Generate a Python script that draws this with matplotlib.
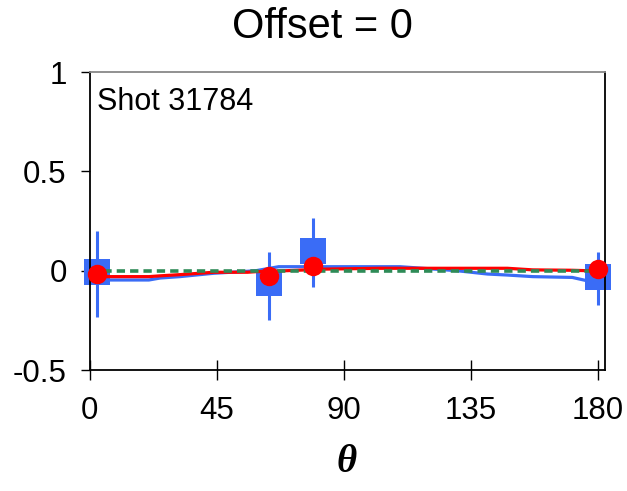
import matplotlib
matplotlib.use("Agg")
import matplotlib.pyplot as plt
import numpy as np

# ---- data ----
theta_pts = [2.5, 63.5, 79, 180]
red_vals = [-0.015, -0.025, 0.025, 0.008]
blue_vals = [-0.009, -0.06, 0.097, -0.033]
blue_err_hi = [0.20, 0.096, 0.265, 0.096]
blue_err_lo = [-0.235, -0.25, -0.08, -0.171]

line_theta = [2.5, 7, 21, 25, 32, 44, 56, 59, 67, 70, 84, 103, 110, 130, 141, 148, 157, 171, 176, 180]
blue_line = [-0.045, -0.047, -0.047, -0.037, -0.03, -0.013, -0.003, 0.0, 0.02, 0.02, 0.02, 0.02, 0.02, 0.0, -0.017, -0.022, -0.03, -0.034, -0.05, -0.05]
red_line = [-0.03, -0.03, -0.03, -0.026, -0.02, -0.008, -0.008, -0.005, -0.001, 0.0, 0.008, 0.012, 0.012, 0.012, 0.012, 0.012, 0.004, 0.002, 0.0, 0.0]
green_theta = [0, 180]
green_line = [0, 0]

xticks = [0, 45, 90, 135, 180]
yticks = [-0.5, 0, 0.5, 1]
ytick_labels = ["-0.5", "0", "0.5", "1"]

title = "Offset = 0"
annot = "Shot 31784"

BLUE = "#3a6cf6"
RED = "#ff0000"
GREEN = "#2e8b57"

plt.rcParams['font.family'] = ['Liberation Sans', 'DejaVu Sans']

fig = plt.figure(figsize=(6.27, 4.91), dpi=100)
ax = fig.add_axes([89.6/627, 1-370/491, (605-89.6)/627, (370-72)/491])

# error bars
yerr = [np.array(blue_vals) - np.array(blue_err_lo), np.array(blue_err_hi) - np.array(blue_vals)]
eb = ax.errorbar(theta_pts, blue_vals, yerr=yerr, fmt='s', color=BLUE, ecolor=BLUE,
                 elinewidth=2.2, markersize=18.5, markeredgewidth=0, capsize=0, zorder=2)
eb[0].set_clip_on(False)
for c in eb[2]:
    c.set_clip_on(False)
ax.plot(line_theta, blue_line, color=BLUE, lw=2.3, zorder=3)
ax.plot(line_theta, red_line, color=RED, lw=2.3, zorder=4)
ax.plot(green_theta, green_line, color=GREEN, lw=2.6, dashes=(2.3, 1.4), zorder=5)
ax.plot(theta_pts, red_vals, 'o', color=RED, markersize=14, markeredgewidth=0, zorder=6, clip_on=False)

ax.set_xlim(0, 182.6)
ax.set_ylim(-0.5, 1)
ax.set_xticks(xticks)
ax.set_yticks(yticks)
ax.set_yticklabels(ytick_labels)

ax.tick_params(axis='y', direction='out', length=6.5, width=1, pad=10, labelsize=22.5)
ax.tick_params(axis='x', direction='inout', length=14, width=1, pad=12, labelsize=22.5)

for s in ['left', 'bottom', 'right']:
    ax.spines[s].set_linewidth(1.3)
    ax.spines[s].set_color('black')
ax.spines['top'].set_color('#888888')
ax.spines['top'].set_linewidth(1.3)

ax.text(0.014, 0.95, annot, transform=ax.transAxes, ha='left', va='top', fontsize=22)

fig.text(322/627, 1-27/491, title, ha='center', va='center', fontsize=30)
fig.text(347/627, 1-462/491, "θ", ha='center', va='center', fontsize=28,
         family=['Liberation Serif', 'DejaVu Serif'], style='italic', weight='bold')

fig.savefig("out.png", dpi=100)
